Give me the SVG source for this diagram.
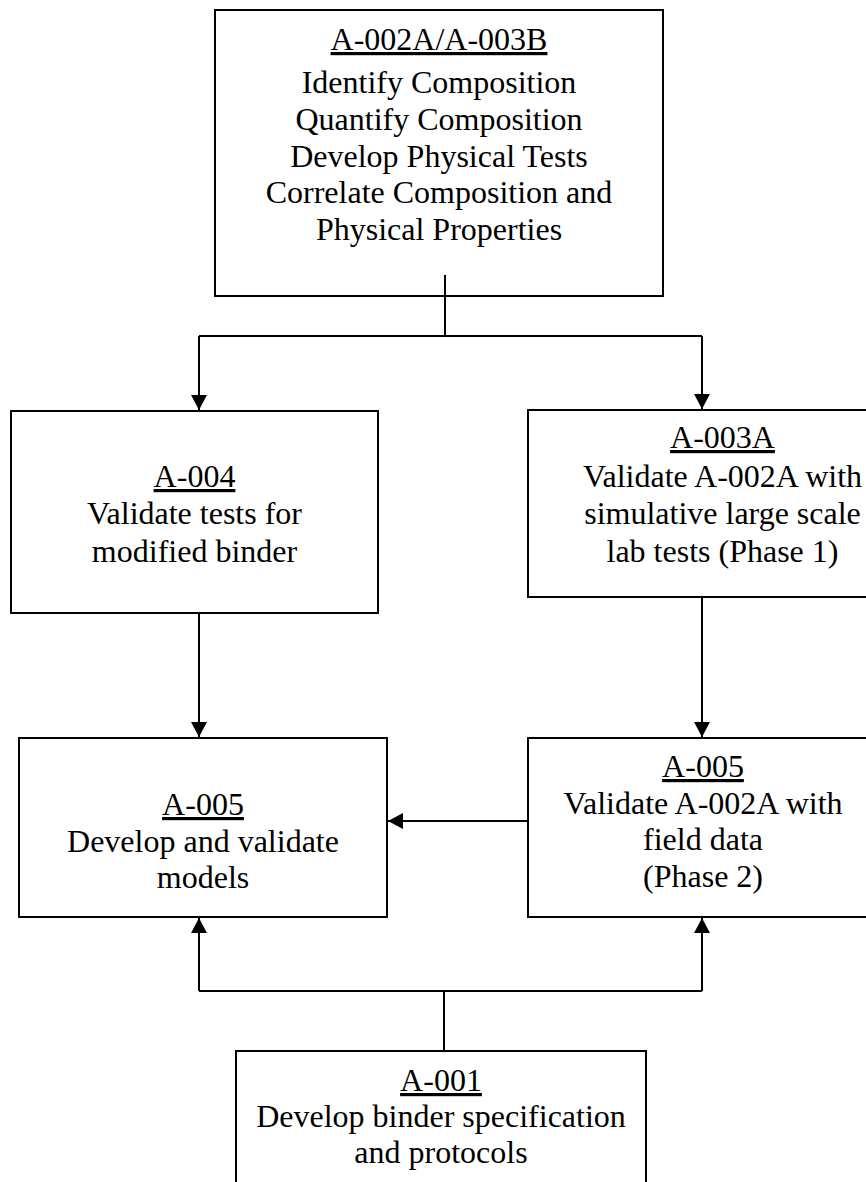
<svg xmlns="http://www.w3.org/2000/svg" width="866" height="1182" viewBox="0 0 866 1182">
  <style>
    .box { fill: #ffffff; stroke: #000000; stroke-width: 2; }
    .wire { fill: none; stroke: #000000; stroke-width: 2; }
    .lbl { font-family: "Liberation Serif", "Times New Roman", serif; font-size: 32px; fill: #000000; text-anchor: middle; }
    .ttl { text-decoration: underline; }
  </style>
  <defs>
    <marker id="arrow" markerUnits="userSpaceOnUse" markerWidth="16" markerHeight="16" refX="15" refY="8" orient="auto">
      <path d="M0,0 L15,8 L0,16 Z" fill="#000000"/>
    </marker>
  </defs>

  <rect width="866" height="1182" fill="#ffffff"/>

  <!-- task boxes -->
  <g id="node-a002a-a003b">
    <rect class="box" x="215" y="10" width="448" height="286"/>
    <text class="lbl ttl" x="439" y="50">A-002A/A-003B</text>
    <text class="lbl" x="439" y="93">Identify Composition</text>
    <text class="lbl" x="439" y="130">Quantify Composition</text>
    <text class="lbl" x="439" y="167">Develop Physical Tests</text>
    <text class="lbl" x="439" y="203">Correlate Composition and</text>
    <text class="lbl" x="439" y="240">Physical Properties</text>
  </g>

  <g id="node-a004">
    <rect class="box" x="11" y="411" width="367" height="202"/>
    <text class="lbl ttl" x="194.5" y="487">A-004</text>
    <text class="lbl" x="194.5" y="524">Validate tests for</text>
    <text class="lbl" x="194.5" y="562">modified binder</text>
  </g>

  <g id="node-a003a">
    <rect class="box" x="528" y="410" width="389" height="187"/>
    <text class="lbl ttl" x="722.5" y="448">A-003A</text>
    <text class="lbl" x="722.5" y="487">Validate A-002A with</text>
    <text class="lbl" x="722.5" y="524">simulative large scale</text>
    <text class="lbl" x="722.5" y="562">lab tests (Phase 1)</text>
  </g>

  <g id="node-a005-models">
    <rect class="box" x="19" y="738" width="368" height="179"/>
    <text class="lbl ttl" x="203" y="815">A-005</text>
    <text class="lbl" x="203" y="852">Develop and validate</text>
    <text class="lbl" x="203" y="888">models</text>
  </g>

  <g id="node-a005-field">
    <rect class="box" x="528" y="738" width="350" height="179"/>
    <text class="lbl ttl" x="703" y="777">A-005</text>
    <text class="lbl" x="703" y="814">Validate A-002A with</text>
    <text class="lbl" x="703" y="850">field data</text>
    <text class="lbl" x="703" y="887">(Phase 2)</text>
  </g>

  <g id="node-a001">
    <rect class="box" x="236" y="1051" width="410" height="135"/>
    <text class="lbl ttl" x="441" y="1091">A-001</text>
    <text class="lbl" x="441" y="1127">Develop binder specification</text>
    <text class="lbl" x="441" y="1163">and protocols</text>
  </g>

  <!-- connectors -->
  <g id="connectors">
    <path class="wire" d="M445,275 V336"/>
    <path class="wire" d="M199,336 H702"/>
    <path class="wire" d="M199,336 V410" marker-end="url(#arrow)"/>
    <path class="wire" d="M702,336 V409" marker-end="url(#arrow)"/>
    <path class="wire" d="M199,613 V737" marker-end="url(#arrow)"/>
    <path class="wire" d="M702,597 V737" marker-end="url(#arrow)"/>
    <path class="wire" d="M528,821 H388" marker-end="url(#arrow)"/>
    <path class="wire" d="M444,1051 V991"/>
    <path class="wire" d="M199,991 H702"/>
    <path class="wire" d="M199,991 V918" marker-end="url(#arrow)"/>
    <path class="wire" d="M702,991 V918" marker-end="url(#arrow)"/>
  </g>
</svg>
